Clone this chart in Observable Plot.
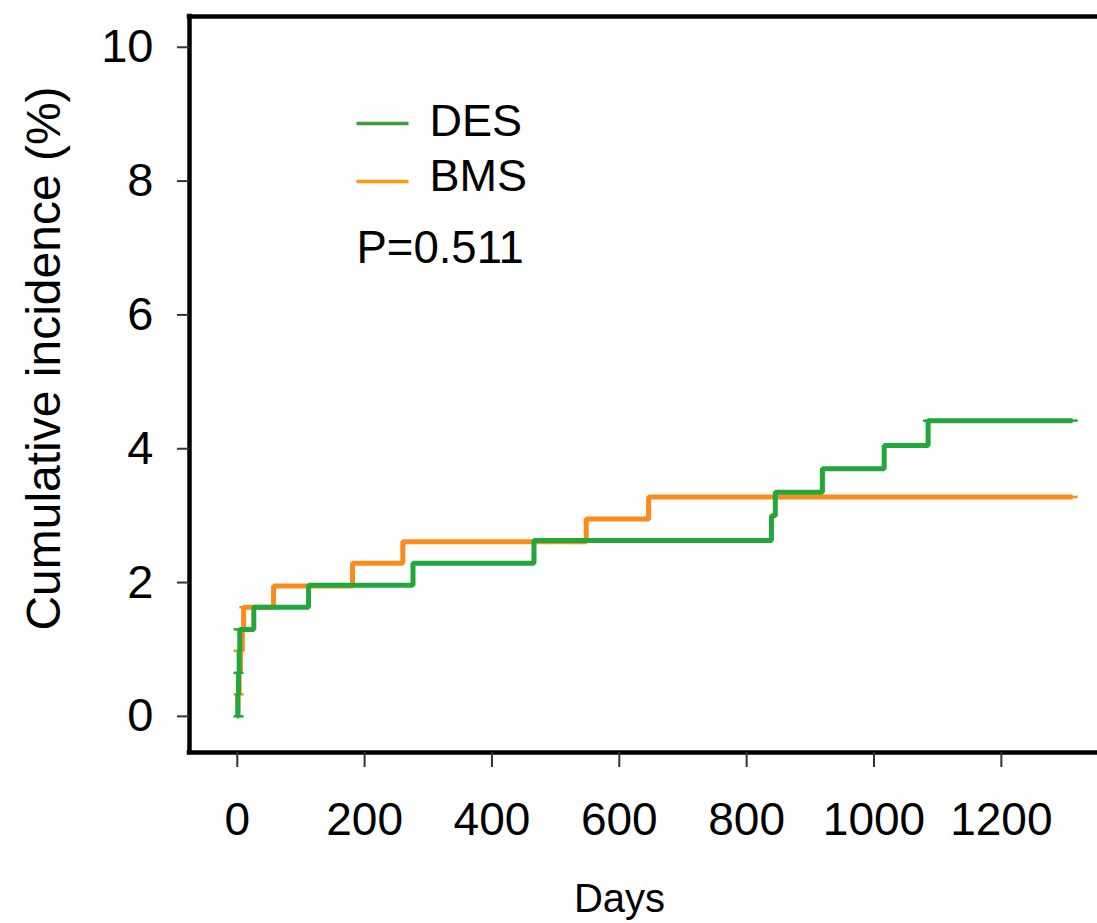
<!DOCTYPE html>
<html>
<head>
<meta charset="utf-8">
<script src="https://cdn.jsdelivr.net/npm/d3@7"></script>
<script src="https://cdn.jsdelivr.net/npm/@observablehq/plot@0.6"></script>
<style>
  html, body { margin: 0; padding: 0; background: #fff; overflow: hidden; }
  #chart svg { display: block; }
</style>
</head>
<body>
<div id="chart"></div>
<script>
// ---- data ----
const desDays = [0, 1, 2, 3, 4, 26, 112, 276, 466, 839, 845, 919, 1016, 1085, 1312];
const desVals = [0, 0.33, 0.65, 0.98, 1.30, 1.63, 1.96, 2.29, 2.63, 3.00, 3.35, 3.70, 4.05, 4.42, 4.42];
const bmsDays = [0, 1, 3, 5, 8, 10, 57, 181, 260, 548, 646, 1312];
const bmsVals = [0, 0.33, 0.65, 0.98, 1.31, 1.63, 1.95, 2.29, 2.61, 2.95, 3.28, 3.28];
// small censor / junction dashes
const desMarkDays = [2, 2, 2, 1085, 1312];
const desMarkVals = [0, 0.65, 1.30, 4.42, 4.42];
const bmsMarkDays = [2, 2, 11, 1312];
const bmsMarkVals = [0.33, 0.98, 1.63, 3.28];

const groups = ["DES", "BMS"];
const colors = ["#22a83a", "#fb8c1c"];
const legendColors = ["#3a9e3a", "#ff9a0a"];
const pText = "P=0.511";
const xTicks = [0, 200, 400, 600, 800, 1000, 1200];
const yTicks = [0, 2, 4, 6, 8, 10];
const xLabel = "Days";
const yLabel = "Cumulative incidence (%)";
const xDomain = [-75, 1351];
const yDomain = [-0.54, 10.46];

const des = desDays.map((d, i) => ({day: d, value: desVals[i], group: "DES"}));
const bms = bmsDays.map((d, i) => ({day: d, value: bmsVals[i], group: "BMS"}));
const desMarks = desMarkDays.map((d, i) => ({day: d, value: desMarkVals[i]}));
const bmsMarks = bmsMarkDays.map((d, i) => ({day: d, value: bmsMarkVals[i]}));

const dash = {draw(ctx) { ctx.moveTo(-5, 0); ctx.lineTo(5, 0); }};
const legendLine = {draw(ctx) { ctx.moveTo(-26, 0); ctx.lineTo(26, 0); }};

const font = "'Liberation Sans', Arial, Helvetica, sans-serif";

const plot = Plot.plot({
  width: 1097,
  height: 923,
  marginLeft: 189,
  marginRight: 0,
  marginTop: 16,
  marginBottom: 171,
  style: {fontFamily: font, fontSize: "47px", color: "#000", background: "#fff"},
  x: {domain: xDomain},
  y: {domain: yDomain},
  marks: [
    // frame (left, top, bottom)
    Plot.ruleX([xDomain[0]], {stroke: "#000", strokeWidth: 4.5, strokeLinecap: "square"}),
    Plot.ruleY([yDomain[0], yDomain[1]], {stroke: "#000", strokeWidth: 4.5, strokeLinecap: "square"}),
    Plot.axisX({ticks: xTicks, tickFormat: d => String(d), tickSize: 15, tickPadding: 35, stroke: "#333", strokeWidth: 2, label: null, fontSize: 46}),
    Plot.axisY({ticks: yTicks, tickFormat: d => String(d), tickSize: 12, tickPadding: 24, stroke: "#333", strokeWidth: 2, label: null, fontSize: 47}),
    // curves
    Plot.line(bms, {x: "day", y: "value", curve: "step-after", stroke: colors[1], strokeWidth: 5, strokeLinejoin: "miter", strokeLinecap: "butt"}),
    Plot.dot(bmsMarks, {x: "day", y: "value", symbol: dash, fill: "none", stroke: colors[1], strokeWidth: 2.5, r: 4}),
    Plot.line(des, {x: "day", y: "value", curve: "step-after", stroke: colors[0], strokeWidth: 5, strokeLinejoin: "miter", strokeLinecap: "butt"}),
    Plot.dot(desMarks, {x: "day", y: "value", symbol: dash, fill: "none", stroke: colors[0], strokeWidth: 2.5, r: 4}),
    // legend
    Plot.dot([groups[0]], {frameAnchor: "top-left", symbol: legendLine, fill: "none", stroke: legendColors[0], strokeWidth: 3.5, r: 4, dx: 193, dy: 107}),
    Plot.dot([groups[1]], {frameAnchor: "top-left", symbol: legendLine, fill: "none", stroke: legendColors[1], strokeWidth: 3.5, r: 4, dx: 193, dy: 165}),
    Plot.text([groups[0]], {frameAnchor: "top-left", textAnchor: "start", lineAnchor: "middle", dx: 240, dy: 105, fontSize: 45, fill: "#000"}),
    Plot.text([groups[1]], {frameAnchor: "top-left", textAnchor: "start", lineAnchor: "middle", dx: 240, dy: 160.5, fontSize: 45, fill: "#000"}),
    Plot.text([pText], {frameAnchor: "top-left", textAnchor: "start", lineAnchor: "middle", dx: 167, dy: 231.5, fontSize: 45.5, fill: "#000"}),
    // axis titles
    Plot.text([xLabel], {frameAnchor: "bottom", textAnchor: "middle", lineAnchor: "middle", dx: -24, dy: 147, fontSize: 40, fill: "#000"}),
    Plot.text([yLabel], {frameAnchor: "left", textAnchor: "middle", lineAnchor: "middle", rotate: -90, dx: -145, dy: -26, fontSize: 48, fill: "#000"})
  ]
});
document.getElementById("chart").appendChild(plot);
</script>
</body>
</html>
